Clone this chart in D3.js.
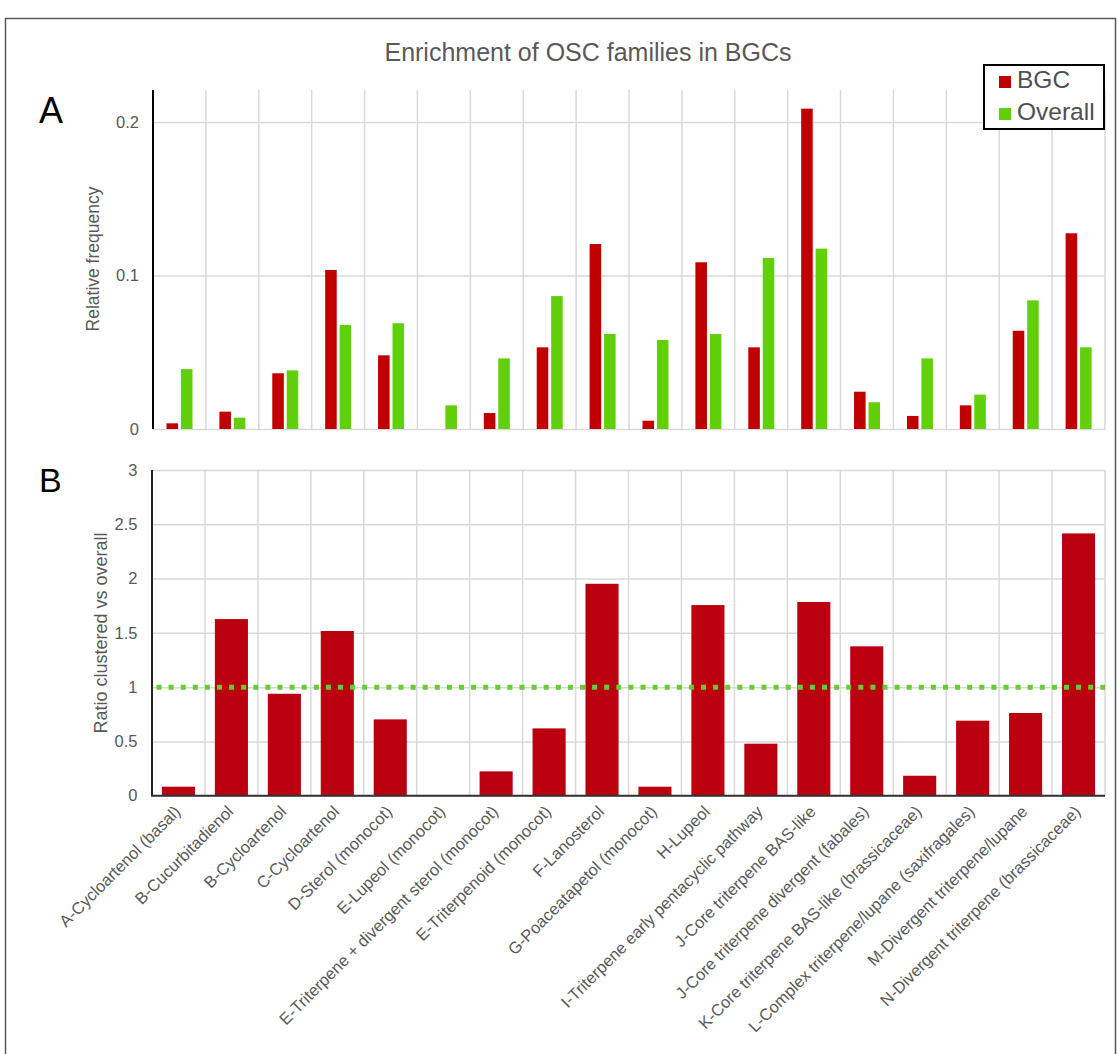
<!DOCTYPE html>
<html>
<head>
<meta charset="utf-8">
<script src="https://cdn.jsdelivr.net/npm/d3@7"></script>
<style>
  html, body { margin: 0; padding: 0; background: #fff; }
  svg { display: block; font-family: "Liberation Sans", Arial, Helvetica, sans-serif; }
</style>
</head>
<body>
<svg id="chart" width="1119" height="1054"></svg>
<script>
// ---------- data ----------
const categories = [
  "A-Cycloartenol (basal)",
  "B-Cucurbitadienol",
  "B-Cycloartenol",
  "C-Cycloartenol",
  "D-Sterol (monocot)",
  "E-Lupeol (monocot)",
  "E-Triterpene + divergent sterol (monocot)",
  "E-Triterpenoid (monocot)",
  "F-Lanosterol",
  "G-Poaceatapetol (monocot)",
  "H-Lupeol",
  "I-Triterpene early pentacyclic pathway",
  "J-Core triterpene BAS-like",
  "J-Core triterpene divergent (fabales)",
  "K-Core triterpene BAS-like (brassicaceae)",
  "L-Complex triterpene/lupane (saxifragales)",
  "M-Divergent triterpene/lupane",
  "N-Divergent triterpene (brassicaceae)"
];
const seriesNames = ["BGC", "Overall"];
const bgcFreq     = [0.0037, 0.0113, 0.0363, 0.1036, 0.0480, 0.0000, 0.0104, 0.0532, 0.1205, 0.0054, 0.1086, 0.0532, 0.2087, 0.0243, 0.0085, 0.0154, 0.0640, 0.1275];
const overallFreq = [0.0390, 0.0074, 0.0382, 0.0678, 0.0689, 0.0154, 0.0460, 0.0866, 0.0619, 0.0580, 0.0619, 0.1114, 0.1175, 0.0174, 0.0460, 0.0224, 0.0838, 0.0532];
const ratio       = [0.083, 1.627, 0.939, 1.517, 0.703, 0.000, 0.224, 0.620, 1.952, 0.083, 1.756, 0.479, 1.784, 1.376, 0.184, 0.691, 0.762, 2.416];
const ticksA = [0, 0.1, 0.2];
const tickLabelsA = ["0", "0.1", "0.2"];
const ticksB = [0, 0.5, 1, 1.5, 2, 2.5, 3];
const tickLabelsB = ["0", "0.5", "1", "1.5", "2", "2.5", "3"];
const referenceRatio = 1;

// ---------- styles ----------
const RED_A = "#c00000", RED_B = "#bb0010", GREEN = "#62cf0b", DOT_GREEN = "#66cc33";
const GRID = "#d9d9d9", TEXT = "#595959";

const svg = d3.select("#chart");

// outer frame
svg.append("rect").attr("x", 5.5).attr("y", 18.5).attr("width", 1110).attr("height", 1100)
  .attr("fill", "none").attr("stroke", "#595959").attr("stroke-width", 1.5);

// title
svg.append("text").attr("x", 588).attr("y", 61).attr("text-anchor", "middle")
  .attr("font-size", 25).attr("fill", TEXT).text("Enrichment of OSC families in BGCs");

// ---------- Panel A ----------
const xA = d3.scaleBand().domain(categories).range([153, 1105]).padding(0);
const yA = d3.scaleLinear().domain([0, 0.22]).range([429, 91.3]);
const xSub = d3.scaleBand().domain(seriesNames).range([13.5, 39.5]).paddingInner(0.2).paddingOuter(0);

const gA = svg.append("g");
// vertical grid
gA.append("g").selectAll("line").data(categories).join("line")
  .attr("x1", (d, i) => xA.range()[0] + (i + 1) * xA.step())
  .attr("x2", (d, i) => xA.range()[0] + (i + 1) * xA.step())
  .attr("y1", 90).attr("y2", yA(0))
  .attr("stroke", GRID).attr("stroke-width", 1.5);
// horizontal grid + tick labels
const axA = d3.axisLeft(yA).tickValues(ticksA).tickFormat((d, i) => tickLabelsA[i])
  .tickSize(-(1105 - 153)).tickPadding(14);
const axAg = gA.append("g").attr("transform", "translate(153,0)").call(axA);
axAg.select(".domain").remove();
axAg.selectAll(".tick line").attr("stroke", GRID).attr("stroke-width", 1.5);
axAg.selectAll(".tick text").attr("font-size", 16.5).attr("fill", TEXT)
  .attr("font-family", "Liberation Sans, Arial, sans-serif");
// bars
const groupsA = gA.append("g").selectAll("g").data(categories).join("g")
  .attr("transform", d => `translate(${xA(d)},0)`);
groupsA.append("rect")
  .attr("x", xSub("BGC")).attr("width", xSub.bandwidth())
  .attr("y", (d, i) => yA(bgcFreq[i])).attr("height", (d, i) => yA(0) - yA(bgcFreq[i]))
  .attr("fill", RED_A);
groupsA.append("rect")
  .attr("x", xSub("Overall")).attr("width", xSub.bandwidth())
  .attr("y", (d, i) => yA(overallFreq[i])).attr("height", (d, i) => yA(0) - yA(overallFreq[i]))
  .attr("fill", GREEN);
// left axis line
gA.append("line").attr("x1", 153).attr("x2", 153).attr("y1", 90).attr("y2", yA(0))
  .attr("stroke", "#000").attr("stroke-width", 2);
// y title
gA.append("text").attr("transform", `translate(99,259) rotate(-90)`)
  .attr("text-anchor", "middle").attr("font-size", 17.5).attr("fill", TEXT).text("Relative frequency");
// panel label
svg.append("text").attr("x", 39).attr("y", 123).attr("font-size", 36).attr("fill", "#000").text("A");

// legend
const leg = svg.append("g");
leg.append("rect").attr("x", 984).attr("y", 65).attr("width", 120).attr("height", 64)
  .attr("fill", "#fff").attr("stroke", "#000").attr("stroke-width", 2);
[[seriesNames[0], RED_A, 88], [seriesNames[1], GREEN, 120]].forEach(([name, col, by]) => {
  leg.append("rect").attr("x", 999).attr("y", by - 12).attr("width", 12).attr("height", 12).attr("fill", col);
  leg.append("text").attr("x", 1017).attr("y", by).attr("font-size", 24.5).attr("fill", "#4f4f55").text(name);
});

// ---------- Panel B ----------
const xB = d3.scaleBand().domain(categories).range([152, 1105]).paddingInner(0.375).paddingOuter(0.1875);
const xBgrid = d3.scaleBand().domain(categories).range([152, 1105]).padding(0);
const yB = d3.scaleLinear().domain([0, 3]).range([795.7, 470]);

const gB = svg.append("g");
gB.append("g").selectAll("line").data(categories).join("line")
  .attr("x1", (d, i) => xBgrid.range()[0] + (i + 1) * xBgrid.step())
  .attr("x2", (d, i) => xBgrid.range()[0] + (i + 1) * xBgrid.step())
  .attr("y1", yB(3)).attr("y2", yB(0))
  .attr("stroke", GRID).attr("stroke-width", 1.5);
const axB = d3.axisLeft(yB).tickValues(ticksB).tickFormat((d, i) => tickLabelsB[i])
  .tickSize(-(1105 - 152)).tickPadding(14.5);
const axBg = gB.append("g").attr("transform", "translate(152,0)").call(axB);
axBg.select(".domain").remove();
axBg.selectAll(".tick line").attr("stroke", GRID).attr("stroke-width", 1.5);
axBg.selectAll(".tick text").attr("font-size", 16.5).attr("fill", TEXT)
  .attr("font-family", "Liberation Sans, Arial, sans-serif");
gB.append("g").selectAll("rect").data(categories).join("rect")
  .attr("x", d => xB(d)).attr("width", xB.bandwidth())
  .attr("y", (d, i) => yB(ratio[i])).attr("height", (d, i) => yB(0) - yB(ratio[i]))
  .attr("fill", RED_B);
// reference line
gB.append("line").attr("x1", 156.5).attr("x2", 1105).attr("y1", yB(referenceRatio)).attr("y2", yB(referenceRatio))
  .attr("stroke", DOT_GREEN).attr("stroke-width", 5).attr("stroke-dasharray", "5,7.1");
// axes lines
gB.append("line").attr("x1", 152).attr("x2", 152).attr("y1", yB(3)).attr("y2", yB(0))
  .attr("stroke", "#222").attr("stroke-width", 2);
gB.append("line").attr("x1", 151).attr("x2", 1105).attr("y1", yB(0)).attr("y2", yB(0))
  .attr("stroke", "#333").attr("stroke-width", 2);
// x labels
gB.append("g").selectAll("text").data(categories).join("text")
  .attr("transform", d => `translate(${xBgrid(d) + xBgrid.bandwidth() / 2 + 3},${yB(0) + 17}) rotate(-45)`)
  .attr("text-anchor", "end").attr("font-size", 16.5).attr("fill", TEXT).text(d => d);
// y title
gB.append("text").attr("transform", `translate(107,633) rotate(-90)`)
  .attr("text-anchor", "middle").attr("font-size", 18).attr("fill", TEXT).text("Ratio clustered vs overall");
svg.append("text").attr("x", 39).attr("y", 492).attr("font-size", 34).attr("fill", "#000").text("B");
</script>
</body>
</html>
